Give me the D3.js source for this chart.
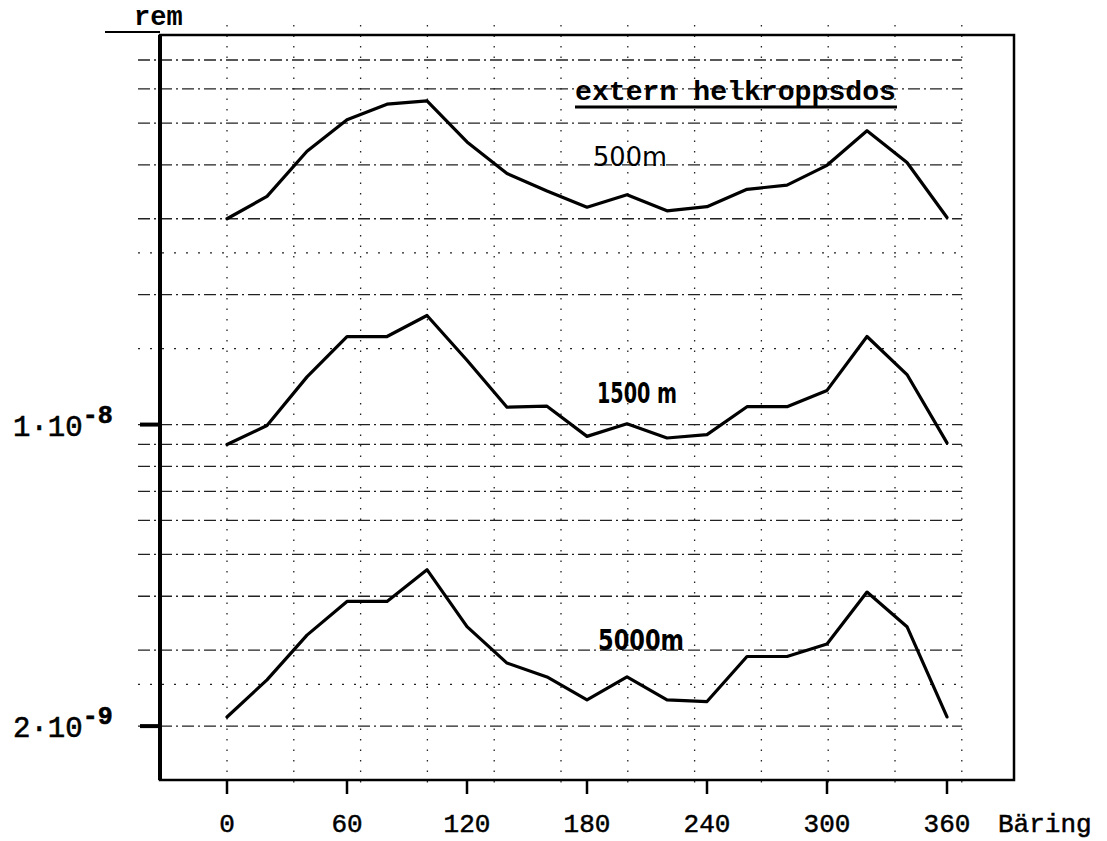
<!DOCTYPE html>
<html>
<head>
<meta charset="utf-8">
<script src="https://cdn.jsdelivr.net/npm/d3@7"></script>
<style>
body { margin: 0; background: #fff; }
svg { display: block; }
</style>
</head>
<body>
<div id="graph"></div>
<script>
// DATA (rem per bearing)
var bearings = [0, 20, 40, 60, 80, 100, 120, 140, 160, 180, 200, 220, 240, 260, 280, 300, 320, 340, 360];
var dose500 = [3.0e-8, 3.38e-8, 4.3e-8, 5.09e-8, 5.53e-8, 5.63e-8, 4.52e-8, 3.82e-8, 3.48e-8, 3.19e-8,
               3.41e-8, 3.13e-8, 3.2e-8, 3.51e-8, 3.59e-8, 3.99e-8, 4.8e-8, 4.05e-8, 3.02e-8];
var dose1500 = [8.99e-9, 9.95e-9, 1.29e-8, 1.6e-8, 1.6e-8, 1.79e-8, 1.41e-8, 1.097e-8, 1.103e-8, 9.39e-9,
                1.004e-8, 9.31e-9, 9.48e-9, 1.1e-8, 1.1e-8, 1.2e-8, 1.6e-8, 1.306e-8, 9.07e-9];
var dose5000 = [2.1e-9, 2.56e-9, 3.25e-9, 3.89e-9, 3.89e-9, 4.61e-9, 3.4e-9, 2.8e-9, 2.6e-9, 2.3e-9,
                2.6e-9, 2.3e-9, 2.28e-9, 2.9e-9, 2.9e-9, 3.1e-9, 4.09e-9, 3.4e-9, 2.1e-9];
var seriesNames = ["500m", "1500 m", "5000m"];

var xTicks = [0, 60, 120, 180, 240, 300, 360];
var yGridMajor = [2e-9, 3e-9, 4e-9, 5e-9, 6e-9, 7e-9, 8e-9, 9e-9, 1e-8, 2e-8, 3e-8, 4e-8, 5e-8, 6e-8, 7e-8];
var yGridMinor = [2.5e-9, 1.5e-8, 2.5e-8];
var yLabelValues = [1e-8, 2e-9];
var yLabelMant = ["1", "2"];
var yLabelExp = ["-8", "-9"];

var title = "extern helkroppsdos";
var unitLabel = "rem";
var xAxisLabel = "Bäring";


// CHART
var svgWidth = 1107;
var svgHeight = 841;
var mono = "'Liberation Mono', 'Courier New', monospace";
var hand = "'DejaVu Sans', sans-serif";

var svg = d3.select("#graph")
    .append("svg")
    .attr("width", svgWidth)
    .attr("height", svgHeight);

var x = d3.scaleLinear()
    .domain([-33.5, 393.5])
    .range([160, 1014]);

var y = d3.scaleLog()
    .domain([1.5e-9, 8e-8])
    .range([780, 35]);

// plot box edges (don't call it "top", that's window.top)
var boxL = x.range()[0], boxR = x.range()[1];
var boxT = y.range()[1], boxB = y.range()[0];

// Graph paper grid: vertical dotted lines
var vGrid = d3.range(0, 380, 33.4);
svg.append("g")
    .selectAll("line")
    .data(vGrid)
    .enter().append("line")
    .attr("x1", d => x(d)).attr("x2", d => x(d))
    .attr("y1", boxT - 10).attr("y2", boxB + 8)
    .attr("stroke", "#222")
    .attr("stroke-width", 1.3)
    .attr("stroke-dasharray", "1.5,9");

// Horizontal grid lines
svg.append("g")
    .selectAll("line")
    .data(yGridMajor)
    .enter().append("line")
    .attr("x1", boxL - 22).attr("x2", x(vGrid[vGrid.length - 1]))
    .attr("y1", d => y(d)).attr("y2", d => y(d))
    .attr("stroke", "#222")
    .attr("stroke-width", 1.3)
    .attr("stroke-dasharray", "12,4,2,4");

svg.append("g")
    .selectAll("line")
    .data(yGridMinor)
    .enter().append("line")
    .attr("x1", boxL - 22).attr("x2", x(vGrid[vGrid.length - 1]))
    .attr("y1", d => y(d)).attr("y2", d => y(d))
    .attr("stroke", "#222")
    .attr("stroke-width", 1.3)
    .attr("stroke-dasharray", "2,10");

// Heavy ticks at the labelled values
svg.append("g")
    .selectAll("line")
    .data(yLabelValues)
    .enter().append("line")
    .attr("x1", boxL - 20).attr("x2", boxL)
    .attr("y1", d => y(d)).attr("y2", d => y(d))
    .attr("stroke", "#000")
    .attr("stroke-width", 4);

// Frame
svg.append("rect")
    .attr("x", boxL).attr("y", boxT)
    .attr("width", boxR - boxL).attr("height", boxB - boxT)
    .attr("fill", "none")
    .attr("stroke", "#000")
    .attr("stroke-width", 2.5);
svg.append("line")
    .attr("x1", boxL).attr("x2", boxL)
    .attr("y1", boxT).attr("y2", boxB)
    .attr("stroke", "#000")
    .attr("stroke-width", 4);
svg.append("line")
    .attr("x1", boxL - 55).attr("x2", boxL)
    .attr("y1", boxT - 3).attr("y2", boxT - 3)
    .attr("stroke", "#000")
    .attr("stroke-width", 2);

// X axis ticks and labels
var xAxis = svg.append("g");
xAxis.selectAll("line")
    .data(xTicks)
    .enter().append("line")
    .attr("x1", d => x(d)).attr("x2", d => x(d))
    .attr("y1", boxB).attr("y2", boxB + 14)
    .attr("stroke", "#000")
    .attr("stroke-width", 2.5);
xAxis.selectAll("text")
    .data(xTicks)
    .enter().append("text")
    .attr("x", d => x(d))
    .attr("y", 832)
    .attr("text-anchor", "middle")
    .attr("font-family", mono)
    .attr("font-size", 26)
    .attr("stroke", "#000")
    .attr("stroke-width", 0.5)
    .text(d => d);
svg.append("text")
    .attr("x", 998).attr("y", 832)
    .attr("font-family", mono)
    .attr("font-size", 26)
    .attr("stroke", "#000")
    .attr("stroke-width", 0.5)
    .text(xAxisLabel);

// Y axis labels (mantissa · 10 with superscript exponent)
var yLab = svg.append("g")
    .selectAll("text")
    .data(yLabelValues)
    .enter().append("text")
    .attr("x", 13)
    .attr("y", d => y(d) + 11)
    .attr("font-family", mono)
    .attr("font-size", 29)
    .attr("stroke", "#000")
    .attr("stroke-width", 0.6);
yLab.append("tspan").text((d, i) => yLabelMant[i] + "\u00b710");
yLab.append("tspan")
    .attr("dy", -13)
    .attr("font-size", 25)
    .attr("font-weight", "bold")
    .text((d, i) => yLabelExp[i]);

// Unit and title
svg.append("text")
    .attr("x", 134).attr("y", 25)
    .attr("font-family", mono)
    .attr("font-weight", "bold")
    .attr("font-size", 27)
    .text(unitLabel);

svg.append("text")
    .attr("x", 575).attr("y", 100)
    .attr("font-family", mono)
    .attr("font-weight", "bold")
    .attr("font-size", 28)
    .attr("textLength", 321)
    .attr("lengthAdjust", "spacingAndGlyphs")
    .text(title);
svg.append("line")
    .attr("x1", 575).attr("x2", 897)
    .attr("y1", 107).attr("y2", 107)
    .attr("stroke", "#000")
    .attr("stroke-width", 3);

// Curves
var allSeries = [dose500, dose1500, dose5000];
var line = d3.line()
    .x((d, i) => x(bearings[i]))
    .y(d => y(d));

svg.append("g")
    .selectAll("path")
    .data(allSeries)
    .enter().append("path")
    .attr("fill", "none")
    .attr("stroke", "#000")
    .attr("stroke-width", 3.2)
    .attr("stroke-linejoin", "round")
    .attr("stroke-linecap", "round")
    .attr("d", line);

// Handwritten curve labels (bearing, dose for baseline)
var labelPos = [[183, 3.97e-8], [185, 1.125e-8], [185.5, 3.0e-9]];
var labelWidth = [74, 80, 86];
svg.append("g")
    .selectAll("text")
    .data(seriesNames)
    .enter().append("text")
    .attr("x", (d, i) => x(labelPos[i][0]))
    .attr("y", (d, i) => y(labelPos[i][1]))
    .attr("font-family", hand)
    .attr("font-size", (d, i) => i == 0 ? 27 : 29)
    .attr("font-weight", (d, i) => i == 0 ? "normal" : "bold")
    .attr("textLength", (d, i) => labelWidth[i])
    .attr("lengthAdjust", "spacingAndGlyphs")
    .text(d => d);
</script>
</body>
</html>
